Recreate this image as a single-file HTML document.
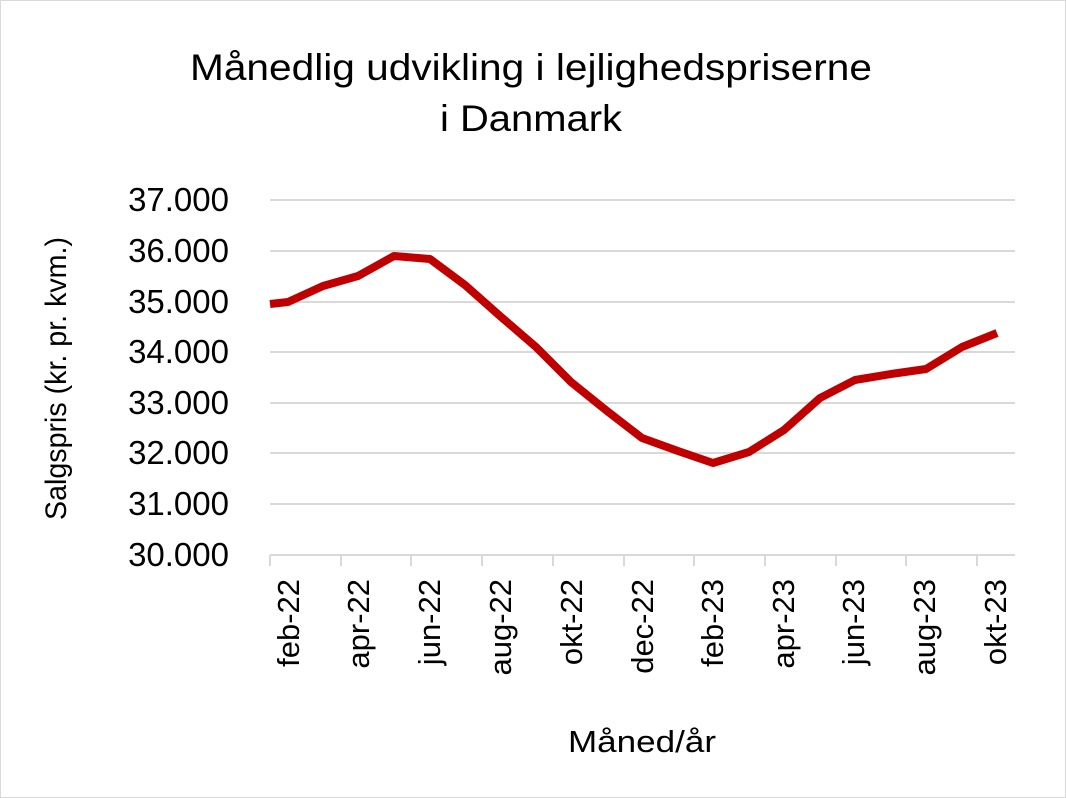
<!DOCTYPE html>
<html><head><meta charset="utf-8"><style>
body{margin:0;background:#fff}
svg{display:block;font-family:"Liberation Sans","DejaVu Sans",sans-serif}
</style></head><body>
<svg width="1066" height="798" viewBox="0 0 1066 798">
<rect x="0.5" y="0.5" width="1065" height="797" fill="#fff" stroke="#d9d9d9"/>
<text x="190" y="80" font-size="37" textLength="682" lengthAdjust="spacingAndGlyphs" fill="#000">Månedlig udvikling i lejlighedspriserne</text>
<text x="440" y="131" font-size="37" textLength="182" lengthAdjust="spacingAndGlyphs" fill="#000">i Danmark</text>
<g stroke="#d9d9d9" stroke-width="2">
<line x1="270" x2="1015" y1="200" y2="200"/>
<line x1="270" x2="1015" y1="251" y2="251"/>
<line x1="270" x2="1015" y1="302" y2="302"/>
<line x1="270" x2="1015" y1="352" y2="352"/>
<line x1="270" x2="1015" y1="403" y2="403"/>
<line x1="270" x2="1015" y1="453" y2="453"/>
<line x1="270" x2="1015" y1="504" y2="504"/>
<line x1="270" x2="1015" y1="555" y2="555"/>
<line x1="270" x2="270" y1="555" y2="566"/>
<line x1="341" x2="341" y1="555" y2="566"/>
<line x1="411" x2="411" y1="555" y2="566"/>
<line x1="482" x2="482" y1="555" y2="566"/>
<line x1="553" x2="553" y1="555" y2="566"/>
<line x1="624" x2="624" y1="555" y2="566"/>
<line x1="694" x2="694" y1="555" y2="566"/>
<line x1="765" x2="765" y1="555" y2="566"/>
<line x1="836" x2="836" y1="555" y2="566"/>
<line x1="906" x2="906" y1="555" y2="566"/>
<line x1="977" x2="977" y1="555" y2="566"/>
</g>
<g font-size="33" fill="#000" text-anchor="end">
<text x="229" y="211">37.000</text>
<text x="229" y="262">36.000</text>
<text x="229" y="313">35.000</text>
<text x="229" y="363">34.000</text>
<text x="229" y="414">33.000</text>
<text x="229" y="464">32.000</text>
<text x="229" y="515">31.000</text>
<text x="229" y="566">30.000</text>
</g>
<g font-size="31" text-anchor="end" fill="#000">
<text transform="translate(299,579) rotate(-90)">feb-22</text>
<text transform="translate(369,579) rotate(-90)">apr-22</text>
<text transform="translate(440,579) rotate(-90)">jun-22</text>
<text transform="translate(511,579) rotate(-90)">aug-22</text>
<text transform="translate(582,579) rotate(-90)">okt-22</text>
<text transform="translate(653,579) rotate(-90)">dec-22</text>
<text transform="translate(723,579) rotate(-90)">feb-23</text>
<text transform="translate(794,579) rotate(-90)">apr-23</text>
<text transform="translate(864,579) rotate(-90)">jun-23</text>
<text transform="translate(935,579) rotate(-90)">aug-23</text>
<text transform="translate(1006,579) rotate(-90)">okt-23</text>
</g>
<text transform="translate(66,520) rotate(-90)" font-size="30" textLength="283" lengthAdjust="spacingAndGlyphs">Salgspris (kr. pr. kvm.)</text>
<text x="568" y="752" font-size="31" textLength="148" lengthAdjust="spacingAndGlyphs">Måned/år</text>
<polyline fill="none" stroke="#c00000" stroke-width="8" stroke-linejoin="round" points="270,304 288,302 323,286 358,276 394,256 430,259 465,285 500,316 536,347 571,382 607,411 642,438 678,451 713,463 749,452 784,430 820,398 855,380 891,374 926,369 962,347 997,333"/>
</svg>
</body></html>
